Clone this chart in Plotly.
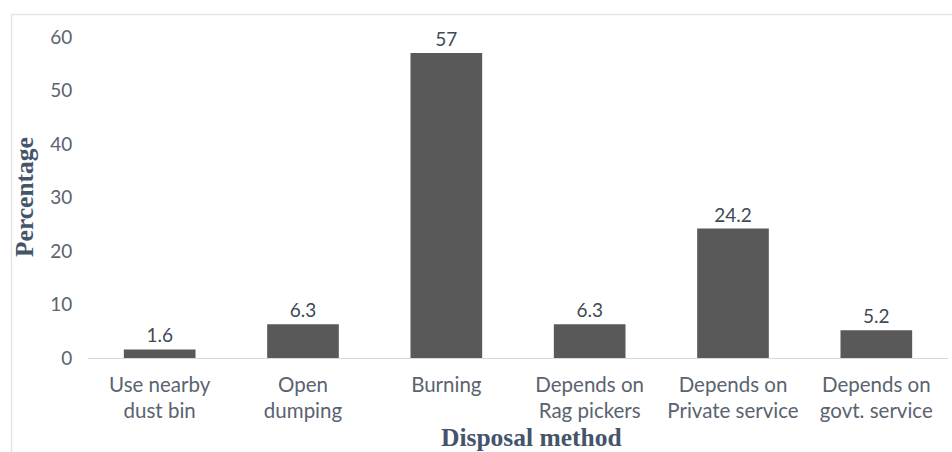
import plotly.graph_objects as go

# Household waste disposal methods (% of respondents)
methods = [
    "Use nearby<br>dust bin",
    "Open<br>dumping",
    "Burning",
    "Depends on<br>Rag pickers",
    "Depends on<br>Private service",
    "Depends on<br>govt. service",
]
percentages = [1.6, 6.3, 57, 6.3, 24.2, 5.2]
y_ticks = [0, 10, 20, 30, 40, 50, 60]

sans = "Lato, Carlito, Calibri, sans-serif"
x_label_font = dict(family=sans, size=20.5, color="#5A6370")
y_label_font = dict(family=sans, size=19, color="#5A6370")
title_font = dict(family="Liberation Serif, Cambria, serif", size=25.5, color="#44546A")

fig = go.Figure(
    go.Bar(
        x=methods,
        y=percentages,
        marker=dict(color="#595959", line=dict(width=0)),
        width=0.5,
        text=[f"{v:g}" for v in percentages],
        textposition="outside",
        textfont=dict(family=sans, size=19, color="#404A56"),
        cliponaxis=False,
    )
)

fig.update_layout(
    width=952,
    height=452,
    margin=dict(l=88, r=4, t=37, b=94),
    paper_bgcolor="white",
    plot_bgcolor="white",
    showlegend=False,
    bargap=0.5,
    xaxis=dict(
        showline=True,
        linecolor="#D9D9D9",
        linewidth=1,
        showgrid=False,
        tickfont=x_label_font,
        ticks="",
        ticklabelstandoff=8,
        fixedrange=True,
    ),
    yaxis=dict(
        range=[0, 60],
        tickvals=y_ticks,
        showgrid=False,
        zeroline=False,
        showline=False,
        tickfont=y_label_font,
        ticks="outside",
        ticklen=11,
        tickcolor="rgba(0,0,0,0)",
        fixedrange=True,
    ),
    annotations=[
        dict(
            text="<b>Percentage</b>",
            xref="paper", yref="paper",
            x=(24 - 88) / 860, y=(358 - 197) / 321,
            xanchor="center", yanchor="middle",
            textangle=-90, showarrow=False,
            font=title_font,
        ),
        dict(
            text="<b>Disposal method</b>",
            xref="paper", yref="paper",
            x=(531 - 88) / 860, y=(358 - 453) / 321,
            xanchor="center", yanchor="bottom",
            showarrow=False, borderpad=0,
            font=title_font,
        ),
    ],
    shapes=[
        dict(
            type="rect",
            xref="paper", yref="paper",
            x0=(11.5 - 88) / 860, x1=1.2,
            y0=-0.6, y1=(358 - 14.5) / 321,
            line=dict(color="#E1E5EA", width=1.5),
            layer="below",
        )
    ],
)

fig.write_html("out.html")
